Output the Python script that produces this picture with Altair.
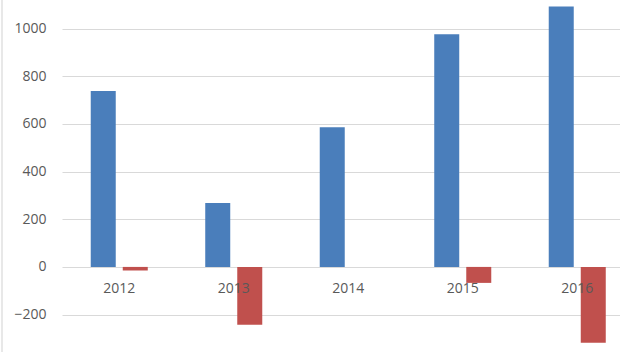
import altair as alt
import pandas as pd

years = ["2012", "2013", "2014", "2015", "2016"]
series_a = [738, 268, 586, 976, 1093]
series_b = [-15, -243, 0, -67, -318]
series_names = ["A", "B"]
y_ticks = [-200, 0, 200, 400, 600, 800, 1000]

rows = []
for i, yr in enumerate(years):
    rows.append({"year": yr, "series": series_names[0], "value": series_a[i]})
    rows.append({"year": yr, "series": series_names[1], "value": series_b[i]})
df = pd.DataFrame(rows)

font = "Open Sans"

bars = alt.Chart(df).mark_bar().encode(
    x=alt.X("year:N", sort=years,
            scale=alt.Scale(paddingInner=0.502, paddingOuter=0.251, range=[0, 572.5]),
            axis=alt.Axis(title=None, orient="bottom", offset=-85, domain=False,
                          ticks=False, labelPadding=14, labelAngle=0,
                          labelFont=font, labelFontSize=14, labelColor="#595959",
                          zindex=1)),
    xOffset=alt.XOffset("series:N", scale=alt.Scale(paddingInner=0.219, paddingOuter=0)),
    y=alt.Y("value:Q",
            scale=alt.Scale(domain=[-357, 1120], nice=False, zero=False),
            axis=alt.Axis(title=None, values=y_ticks, format="d", domain=False, ticks=False,
                          labelPadding=16, labelFont=font, labelFontSize=14,
                          labelColor="#595959", gridColor="#d9d9d9", gridWidth=1)),
    color=alt.Color("series:N", legend=None,
                    scale=alt.Scale(domain=series_names, range=["#4a7ebb", "#c0504d"])),
)

border = alt.Chart(pd.DataFrame({"v": [0]})).mark_rule(color="#e0e0e0", strokeWidth=1.5).encode(
    x=alt.value(-60), y=alt.value(0), y2=alt.value(352)
)

chart = alt.layer(bars, border).properties(
    width=558, height=352,
    padding={"left": 62, "top": 0, "right": 0, "bottom": 0},
    autosize=alt.AutoSizeParams(type="none"),
    background="white",
).configure_view(stroke=None, clip=False)

chart.save("out.html", embed_options={"renderer": "svg", "actions": False})
